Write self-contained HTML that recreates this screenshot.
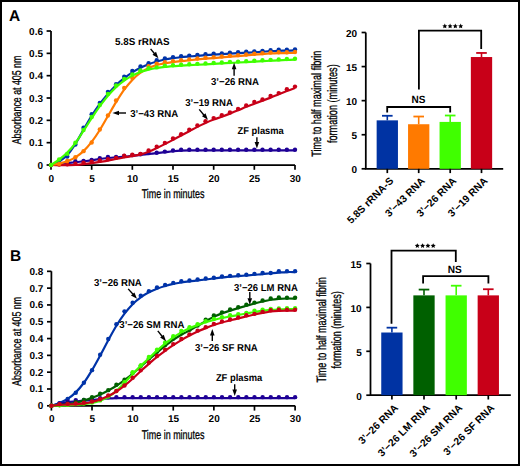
<!DOCTYPE html>
<html><head><meta charset="utf-8"><style>
html,body{margin:0;padding:0;background:#fff;width:520px;height:466px;overflow:hidden}
svg{display:block}
text{font-family:"Liberation Sans", sans-serif;text-rendering:geometricPrecision}
</style></head><body>
<svg width="520" height="466" viewBox="0 0 520 466" font-family='"Liberation Sans", sans-serif'>
<rect x="0" y="0" width="520" height="466" fill="#fff"/>
<polyline points="51,31.02 51,165 295,165" fill="none" stroke="#000" stroke-width="1.75" stroke-linejoin="miter"/>
<line x1="46.6" y1="165" x2="51" y2="165" stroke="#000" stroke-width="1.7"/>
<text x="43" y="168.5" font-size="10" font-weight="bold" text-anchor="end" >0</text>
<line x1="46.6" y1="142.67" x2="51" y2="142.67" stroke="#000" stroke-width="1.7"/>
<text x="43" y="146.17" font-size="10" font-weight="bold" text-anchor="end" >0.1</text>
<line x1="46.6" y1="120.34" x2="51" y2="120.34" stroke="#000" stroke-width="1.7"/>
<text x="43" y="123.84" font-size="10" font-weight="bold" text-anchor="end" >0.2</text>
<line x1="46.6" y1="98.01" x2="51" y2="98.01" stroke="#000" stroke-width="1.7"/>
<text x="43" y="101.51" font-size="10" font-weight="bold" text-anchor="end" >0.3</text>
<line x1="46.6" y1="75.68" x2="51" y2="75.68" stroke="#000" stroke-width="1.7"/>
<text x="43" y="79.18" font-size="10" font-weight="bold" text-anchor="end" >0.4</text>
<line x1="46.6" y1="53.35" x2="51" y2="53.35" stroke="#000" stroke-width="1.7"/>
<text x="43" y="56.85" font-size="10" font-weight="bold" text-anchor="end" >0.5</text>
<line x1="46.6" y1="31.02" x2="51" y2="31.02" stroke="#000" stroke-width="1.7"/>
<text x="43" y="34.52" font-size="10" font-weight="bold" text-anchor="end" >0.6</text>
<line x1="51" y1="165" x2="51" y2="169.8" stroke="#000" stroke-width="1.7"/>
<text x="51.3" y="181.5" font-size="10" font-weight="bold" text-anchor="middle" >0</text>
<line x1="91.67" y1="165" x2="91.67" y2="169.8" stroke="#000" stroke-width="1.7"/>
<text x="91.97" y="181.5" font-size="10" font-weight="bold" text-anchor="middle" >5</text>
<line x1="132.33" y1="165" x2="132.33" y2="169.8" stroke="#000" stroke-width="1.7"/>
<text x="132.63" y="181.5" font-size="10" font-weight="bold" text-anchor="middle" >10</text>
<line x1="173" y1="165" x2="173" y2="169.8" stroke="#000" stroke-width="1.7"/>
<text x="173.3" y="181.5" font-size="10" font-weight="bold" text-anchor="middle" >15</text>
<line x1="213.67" y1="165" x2="213.67" y2="169.8" stroke="#000" stroke-width="1.7"/>
<text x="213.97" y="181.5" font-size="10" font-weight="bold" text-anchor="middle" >20</text>
<line x1="254.33" y1="165" x2="254.33" y2="169.8" stroke="#000" stroke-width="1.7"/>
<text x="254.63" y="181.5" font-size="10" font-weight="bold" text-anchor="middle" >25</text>
<line x1="295" y1="165" x2="295" y2="169.8" stroke="#000" stroke-width="1.7"/>
<text x="295.3" y="181.5" font-size="10" font-weight="bold" text-anchor="middle" >30</text>
<path d="M51,165 C52.36,164.85 56.42,164.41 59.13,164.08 C61.84,163.75 64.56,163.32 67.27,163.02 C69.98,162.71 72.69,162.54 75.4,162.25 C78.11,161.96 80.82,161.61 83.53,161.28 C86.24,160.96 88.96,160.7 91.67,160.32 C94.38,159.93 97.09,159.36 99.8,158.98 C102.51,158.59 105.22,158.29 107.93,158.01 C110.64,157.72 113.36,157.49 116.07,157.26 C118.78,157.04 121.49,156.92 124.2,156.67 C126.91,156.42 129.62,156.08 132.33,155.77 C135.04,155.46 137.76,155.1 140.47,154.81 C143.18,154.51 145.89,154.27 148.6,153.99 C151.31,153.7 154.02,153.39 156.73,153.1 C159.44,152.8 162.16,152.51 164.87,152.2 C167.58,151.89 170.29,151.5 173,151.23 C175.71,150.97 178.42,150.75 181.13,150.6 C183.84,150.45 186.56,150.39 189.27,150.34 C191.98,150.29 194.69,150.31 197.4,150.3 C200.11,150.3 202.82,150.3 205.53,150.3 C208.24,150.3 210.96,150.3 213.67,150.3 C216.38,150.3 219.09,150.3 221.8,150.3 C224.51,150.3 227.22,150.3 229.93,150.3 C232.64,150.3 235.36,150.3 238.07,150.3 C240.78,150.3 243.49,150.3 246.2,150.3 C248.91,150.3 251.62,150.3 254.33,150.3 C257.04,150.3 259.76,150.3 262.47,150.3 C265.18,150.3 267.89,150.3 270.6,150.3 C273.31,150.3 276.02,150.3 278.73,150.3 C281.44,150.3 284.16,150.3 286.87,150.3 C289.58,150.3 293.64,150.3 295,150.3" fill="none" stroke="#1e0096" stroke-width="2.2"/>
<circle cx="51" cy="165" r="2.2" fill="#1e0096"/>
<circle cx="59.13" cy="163.88" r="2.2" fill="#1e0096"/>
<circle cx="67.27" cy="162.77" r="2.2" fill="#1e0096"/>
<circle cx="75.4" cy="161.2" r="2.2" fill="#1e0096"/>
<circle cx="83.53" cy="160.98" r="2.2" fill="#1e0096"/>
<circle cx="91.67" cy="159.86" r="2.2" fill="#1e0096"/>
<circle cx="99.8" cy="158.3" r="2.2" fill="#1e0096"/>
<circle cx="107.93" cy="156.96" r="2.2" fill="#1e0096"/>
<circle cx="116.07" cy="156.96" r="2.2" fill="#1e0096"/>
<circle cx="124.2" cy="156.07" r="2.2" fill="#1e0096"/>
<circle cx="132.33" cy="155.17" r="2.2" fill="#1e0096"/>
<circle cx="140.47" cy="154.28" r="2.2" fill="#1e0096"/>
<circle cx="148.6" cy="153.17" r="2.2" fill="#1e0096"/>
<circle cx="156.73" cy="152.72" r="2.2" fill="#1e0096"/>
<circle cx="164.87" cy="151.6" r="2.2" fill="#1e0096"/>
<circle cx="173" cy="150.49" r="2.2" fill="#1e0096"/>
<circle cx="181.13" cy="149.82" r="2.2" fill="#1e0096"/>
<circle cx="189.27" cy="149.7" r="2.2" fill="#1e0096"/>
<circle cx="197.4" cy="149.7" r="2.2" fill="#1e0096"/>
<circle cx="205.53" cy="149.7" r="2.2" fill="#1e0096"/>
<circle cx="213.67" cy="149.7" r="2.2" fill="#1e0096"/>
<circle cx="221.8" cy="149.7" r="2.2" fill="#1e0096"/>
<circle cx="229.93" cy="149.7" r="2.2" fill="#1e0096"/>
<circle cx="238.07" cy="149.7" r="2.2" fill="#1e0096"/>
<circle cx="246.2" cy="149.7" r="2.2" fill="#1e0096"/>
<circle cx="254.33" cy="149.7" r="2.2" fill="#1e0096"/>
<circle cx="262.47" cy="149.7" r="2.2" fill="#1e0096"/>
<circle cx="270.6" cy="149.7" r="2.2" fill="#1e0096"/>
<circle cx="278.73" cy="149.7" r="2.2" fill="#1e0096"/>
<circle cx="286.87" cy="149.7" r="2.2" fill="#1e0096"/>
<circle cx="295" cy="149.7" r="2.2" fill="#1e0096"/>
<path d="M51,165 C52.36,165.02 56.42,165.08 59.13,165.09 C61.84,165.11 64.56,165.13 67.27,165.11 C69.98,165.1 72.69,165.16 75.4,164.99 C78.11,164.82 80.82,164.42 83.53,164.09 C86.24,163.77 88.96,163.42 91.67,163.05 C94.38,162.68 97.09,162.27 99.8,161.86 C102.51,161.45 105.22,161.08 107.93,160.59 C110.64,160.11 113.36,159.48 116.07,158.96 C118.78,158.44 121.49,157.94 124.2,157.47 C126.91,157 129.62,156.64 132.33,156.13 C135.04,155.62 137.76,155.15 140.47,154.42 C143.18,153.68 145.89,152.79 148.6,151.74 C151.31,150.68 154.02,149.37 156.73,148.09 C159.44,146.81 162.16,145.43 164.87,144.07 C167.58,142.71 170.29,141.33 173,139.9 C175.71,138.48 178.42,136.96 181.13,135.51 C183.84,134.06 186.56,132.63 189.27,131.19 C191.98,129.75 194.69,128.24 197.4,126.88 C200.11,125.51 202.82,124.22 205.53,123.01 C208.24,121.79 210.96,120.64 213.67,119.58 C216.38,118.53 219.09,117.67 221.8,116.68 C224.51,115.69 227.22,114.68 229.93,113.63 C232.64,112.57 235.36,111.48 238.07,110.35 C240.78,109.22 243.49,107.96 246.2,106.85 C248.91,105.75 251.62,104.77 254.33,103.73 C257.04,102.69 259.76,101.62 262.47,100.6 C265.18,99.58 267.89,98.69 270.6,97.62 C273.31,96.56 276.02,95.29 278.73,94.2 C281.44,93.11 284.16,92.1 286.87,91.07 C289.58,90.04 293.64,88.53 295,88.02" fill="none" stroke="#c80018" stroke-width="2.2"/>
<circle cx="51" cy="165" r="2.2" fill="#c80018"/>
<circle cx="59.13" cy="164.55" r="2.2" fill="#c80018"/>
<circle cx="67.27" cy="164.33" r="2.2" fill="#c80018"/>
<circle cx="75.4" cy="163.66" r="2.2" fill="#c80018"/>
<circle cx="83.53" cy="162.77" r="2.2" fill="#c80018"/>
<circle cx="91.67" cy="161.65" r="2.2" fill="#c80018"/>
<circle cx="99.8" cy="160.53" r="2.2" fill="#c80018"/>
<circle cx="107.93" cy="159.19" r="2.2" fill="#c80018"/>
<circle cx="116.07" cy="157.85" r="2.2" fill="#c80018"/>
<circle cx="124.2" cy="155.62" r="2.2" fill="#c80018"/>
<circle cx="132.33" cy="154.73" r="2.2" fill="#c80018"/>
<circle cx="140.47" cy="153.84" r="2.2" fill="#c80018"/>
<circle cx="148.6" cy="150.49" r="2.2" fill="#c80018"/>
<circle cx="156.73" cy="146.69" r="2.2" fill="#c80018"/>
<circle cx="164.87" cy="142.89" r="2.2" fill="#c80018"/>
<circle cx="173" cy="138.43" r="2.2" fill="#c80018"/>
<circle cx="181.13" cy="134.18" r="2.2" fill="#c80018"/>
<circle cx="189.27" cy="129.72" r="2.2" fill="#c80018"/>
<circle cx="197.4" cy="125.48" r="2.2" fill="#c80018"/>
<circle cx="205.53" cy="121.23" r="2.2" fill="#c80018"/>
<circle cx="213.67" cy="118.11" r="2.2" fill="#c80018"/>
<circle cx="221.8" cy="115.2" r="2.2" fill="#c80018"/>
<circle cx="229.93" cy="112.52" r="2.2" fill="#c80018"/>
<circle cx="238.07" cy="108.95" r="2.2" fill="#c80018"/>
<circle cx="246.2" cy="105.38" r="2.2" fill="#c80018"/>
<circle cx="254.33" cy="102.03" r="2.2" fill="#c80018"/>
<circle cx="262.47" cy="99.57" r="2.2" fill="#c80018"/>
<circle cx="270.6" cy="96" r="2.2" fill="#c80018"/>
<circle cx="278.73" cy="93.1" r="2.2" fill="#c80018"/>
<circle cx="286.87" cy="89.3" r="2.2" fill="#c80018"/>
<circle cx="295" cy="86.62" r="2.2" fill="#c80018"/>
<path d="M51,165 C52.36,164.43 56.42,163.24 59.13,161.58 C61.84,159.92 64.56,157.99 67.27,155.03 C69.98,152.07 72.69,148.01 75.4,143.79 C78.11,139.58 80.82,134.38 83.53,129.73 C86.24,125.07 88.96,120.17 91.67,115.88 C94.38,111.59 97.09,107.63 99.8,103.97 C102.51,100.31 105.22,97.05 107.93,93.92 C110.64,90.8 113.36,87.83 116.07,85.21 C118.78,82.6 121.49,80.36 124.2,78.22 C126.91,76.07 129.62,74.07 132.33,72.34 C135.04,70.6 137.76,69.15 140.47,67.8 C143.18,66.44 145.89,65.27 148.6,64.22 C151.31,63.18 154.02,62.33 156.73,61.54 C159.44,60.76 162.16,60.09 164.87,59.53 C167.58,58.98 170.29,58.58 173,58.19 C175.71,57.81 178.42,57.51 181.13,57.23 C183.84,56.94 186.56,56.72 189.27,56.48 C191.98,56.25 194.69,56.02 197.4,55.81 C200.11,55.6 202.82,55.4 205.53,55.22 C208.24,55.03 210.96,54.87 213.67,54.7 C216.38,54.52 219.09,54.35 221.8,54.18 C224.51,54 227.22,53.83 229.93,53.65 C232.64,53.48 235.36,53.29 238.07,53.13 C240.78,52.97 243.49,52.84 246.2,52.69 C248.91,52.54 251.62,52.4 254.33,52.24 C257.04,52.08 259.76,51.89 262.47,51.72 C265.18,51.55 267.89,51.35 270.6,51.2 C273.31,51.05 276.02,50.93 278.73,50.83 C281.44,50.73 284.16,50.66 286.87,50.6 C289.58,50.54 293.64,50.48 295,50.45" fill="none" stroke="#0033a8" stroke-width="2.2"/>
<circle cx="51" cy="165" r="2.2" fill="#0033a8"/>
<circle cx="59.13" cy="162.32" r="2.2" fill="#0033a8"/>
<circle cx="67.27" cy="156.51" r="2.2" fill="#0033a8"/>
<circle cx="75.4" cy="144.46" r="2.2" fill="#0033a8"/>
<circle cx="83.53" cy="127.71" r="2.2" fill="#0033a8"/>
<circle cx="91.67" cy="114.31" r="2.2" fill="#0033a8"/>
<circle cx="99.8" cy="102.92" r="2.2" fill="#0033a8"/>
<circle cx="107.93" cy="91.98" r="2.2" fill="#0033a8"/>
<circle cx="116.07" cy="84.17" r="2.2" fill="#0033a8"/>
<circle cx="124.2" cy="76.8" r="2.2" fill="#0033a8"/>
<circle cx="132.33" cy="70.99" r="2.2" fill="#0033a8"/>
<circle cx="140.47" cy="66.52" r="2.2" fill="#0033a8"/>
<circle cx="148.6" cy="63.18" r="2.2" fill="#0033a8"/>
<circle cx="156.73" cy="60.27" r="2.2" fill="#0033a8"/>
<circle cx="164.87" cy="58.49" r="2.2" fill="#0033a8"/>
<circle cx="173" cy="57.15" r="2.2" fill="#0033a8"/>
<circle cx="181.13" cy="56.25" r="2.2" fill="#0033a8"/>
<circle cx="189.27" cy="55.58" r="2.2" fill="#0033a8"/>
<circle cx="197.4" cy="54.91" r="2.2" fill="#0033a8"/>
<circle cx="205.53" cy="54.24" r="2.2" fill="#0033a8"/>
<circle cx="213.67" cy="53.8" r="2.2" fill="#0033a8"/>
<circle cx="221.8" cy="53.35" r="2.2" fill="#0033a8"/>
<circle cx="229.93" cy="52.68" r="2.2" fill="#0033a8"/>
<circle cx="238.07" cy="52.23" r="2.2" fill="#0033a8"/>
<circle cx="246.2" cy="51.79" r="2.2" fill="#0033a8"/>
<circle cx="254.33" cy="51.34" r="2.2" fill="#0033a8"/>
<circle cx="262.47" cy="50.89" r="2.2" fill="#0033a8"/>
<circle cx="270.6" cy="50.22" r="2.2" fill="#0033a8"/>
<circle cx="278.73" cy="49.78" r="2.2" fill="#0033a8"/>
<circle cx="286.87" cy="49.78" r="2.2" fill="#0033a8"/>
<circle cx="295" cy="49.55" r="2.2" fill="#0033a8"/>
<path d="M51,165 C52.36,164.76 56.42,164.21 59.13,163.59 C61.84,162.97 64.56,162.32 67.27,161.28 C69.98,160.24 72.69,159.03 75.4,157.34 C78.11,155.65 80.82,153.73 83.53,151.16 C86.24,148.59 88.96,145.46 91.67,141.93 C94.38,138.41 97.09,134.34 99.8,130.02 C102.51,125.71 105.22,120.67 107.93,116.03 C110.64,111.39 113.36,106.58 116.07,102.19 C118.78,97.79 121.49,93.39 124.2,89.68 C126.91,85.97 129.62,82.76 132.33,79.93 C135.04,77.1 137.76,74.71 140.47,72.71 C143.18,70.71 145.89,69.24 148.6,67.95 C151.31,66.66 154.02,65.75 156.73,64.97 C159.44,64.19 162.16,63.73 164.87,63.26 C167.58,62.79 170.29,62.49 173,62.14 C175.71,61.79 178.42,61.48 181.13,61.17 C183.84,60.86 186.56,60.56 189.27,60.28 C191.98,59.99 194.69,59.72 197.4,59.46 C200.11,59.2 202.82,58.95 205.53,58.72 C208.24,58.48 210.96,58.27 213.67,58.05 C216.38,57.82 219.09,57.6 221.8,57.38 C224.51,57.15 227.22,56.93 229.93,56.71 C232.64,56.48 235.36,56.26 238.07,56.04 C240.78,55.81 243.49,55.59 246.2,55.37 C248.91,55.14 251.62,54.92 254.33,54.7 C257.04,54.47 259.76,54.23 262.47,54.03 C265.18,53.83 267.89,53.64 270.6,53.51 C273.31,53.37 276.02,53.28 278.73,53.21 C281.44,53.13 284.16,53.11 286.87,53.06 C289.58,53.01 293.64,52.94 295,52.91" fill="none" stroke="#ff7a00" stroke-width="2.2"/>
<circle cx="51" cy="165" r="2.2" fill="#ff7a00"/>
<circle cx="59.13" cy="163.88" r="2.2" fill="#ff7a00"/>
<circle cx="67.27" cy="160.98" r="2.2" fill="#ff7a00"/>
<circle cx="75.4" cy="157.18" r="2.2" fill="#ff7a00"/>
<circle cx="83.53" cy="151.16" r="2.2" fill="#ff7a00"/>
<circle cx="91.67" cy="142.45" r="2.2" fill="#ff7a00"/>
<circle cx="99.8" cy="129.5" r="2.2" fill="#ff7a00"/>
<circle cx="107.93" cy="115.43" r="2.2" fill="#ff7a00"/>
<circle cx="116.07" cy="100.47" r="2.2" fill="#ff7a00"/>
<circle cx="124.2" cy="87.96" r="2.2" fill="#ff7a00"/>
<circle cx="132.33" cy="77.91" r="2.2" fill="#ff7a00"/>
<circle cx="140.47" cy="71.21" r="2.2" fill="#ff7a00"/>
<circle cx="148.6" cy="66.3" r="2.2" fill="#ff7a00"/>
<circle cx="156.73" cy="63.62" r="2.2" fill="#ff7a00"/>
<circle cx="164.87" cy="62.28" r="2.2" fill="#ff7a00"/>
<circle cx="173" cy="61.17" r="2.2" fill="#ff7a00"/>
<circle cx="181.13" cy="60.27" r="2.2" fill="#ff7a00"/>
<circle cx="189.27" cy="59.38" r="2.2" fill="#ff7a00"/>
<circle cx="197.4" cy="58.49" r="2.2" fill="#ff7a00"/>
<circle cx="205.53" cy="57.82" r="2.2" fill="#ff7a00"/>
<circle cx="213.67" cy="57.15" r="2.2" fill="#ff7a00"/>
<circle cx="221.8" cy="56.48" r="2.2" fill="#ff7a00"/>
<circle cx="229.93" cy="55.81" r="2.2" fill="#ff7a00"/>
<circle cx="238.07" cy="55.14" r="2.2" fill="#ff7a00"/>
<circle cx="246.2" cy="54.47" r="2.2" fill="#ff7a00"/>
<circle cx="254.33" cy="53.8" r="2.2" fill="#ff7a00"/>
<circle cx="262.47" cy="53.13" r="2.2" fill="#ff7a00"/>
<circle cx="270.6" cy="52.46" r="2.2" fill="#ff7a00"/>
<circle cx="278.73" cy="52.23" r="2.2" fill="#ff7a00"/>
<circle cx="286.87" cy="52.23" r="2.2" fill="#ff7a00"/>
<circle cx="295" cy="52.01" r="2.2" fill="#ff7a00"/>
<path d="M51,165 C52.36,164.12 56.42,161.79 59.13,159.72 C61.84,157.65 64.56,155.35 67.27,152.57 C69.98,149.8 72.69,146.68 75.4,143.05 C78.11,139.41 80.82,134.91 83.53,130.77 C86.24,126.62 88.96,122.28 91.67,118.19 C94.38,114.09 97.09,109.95 99.8,106.2 C102.51,102.46 105.22,98.9 107.93,95.71 C110.64,92.52 113.36,89.59 116.07,87.08 C118.78,84.56 121.49,82.51 124.2,80.6 C126.91,78.69 129.62,77.04 132.33,75.61 C135.04,74.19 137.76,73.03 140.47,72.04 C143.18,71.05 145.89,70.33 148.6,69.66 C151.31,68.99 154.02,68.47 156.73,68.02 C159.44,67.57 162.16,67.3 164.87,66.98 C167.58,66.66 170.29,66.31 173,66.08 C175.71,65.86 178.42,65.79 181.13,65.64 C183.84,65.49 186.56,65.34 189.27,65.19 C191.98,65.04 194.69,64.89 197.4,64.75 C200.11,64.6 202.82,64.45 205.53,64.3 C208.24,64.15 210.96,64 213.67,63.85 C216.38,63.7 219.09,63.55 221.8,63.41 C224.51,63.26 227.22,63.11 229.93,62.96 C232.64,62.81 235.36,62.66 238.07,62.51 C240.78,62.36 243.49,62.21 246.2,62.07 C248.91,61.92 251.62,61.77 254.33,61.62 C257.04,61.47 259.76,61.32 262.47,61.17 C265.18,61.02 267.89,60.87 270.6,60.73 C273.31,60.58 276.02,60.42 278.73,60.28 C281.44,60.14 284.16,60.02 286.87,59.91 C289.58,59.8 293.64,59.66 295,59.61" fill="none" stroke="#40ff00" stroke-width="2.2"/>
<circle cx="51" cy="165" r="2.2" fill="#40ff00"/>
<circle cx="59.13" cy="159.42" r="2.2" fill="#40ff00"/>
<circle cx="67.27" cy="153.84" r="2.2" fill="#40ff00"/>
<circle cx="75.4" cy="142.67" r="2.2" fill="#40ff00"/>
<circle cx="83.53" cy="129.94" r="2.2" fill="#40ff00"/>
<circle cx="91.67" cy="116.99" r="2.2" fill="#40ff00"/>
<circle cx="99.8" cy="104.93" r="2.2" fill="#40ff00"/>
<circle cx="107.93" cy="93.99" r="2.2" fill="#40ff00"/>
<circle cx="116.07" cy="85.51" r="2.2" fill="#40ff00"/>
<circle cx="124.2" cy="79.03" r="2.2" fill="#40ff00"/>
<circle cx="132.33" cy="74.56" r="2.2" fill="#40ff00"/>
<circle cx="140.47" cy="70.54" r="2.2" fill="#40ff00"/>
<circle cx="148.6" cy="68.31" r="2.2" fill="#40ff00"/>
<circle cx="156.73" cy="67.42" r="2.2" fill="#40ff00"/>
<circle cx="164.87" cy="65.63" r="2.2" fill="#40ff00"/>
<circle cx="173" cy="65.18" r="2.2" fill="#40ff00"/>
<circle cx="181.13" cy="64.74" r="2.2" fill="#40ff00"/>
<circle cx="189.27" cy="64.29" r="2.2" fill="#40ff00"/>
<circle cx="197.4" cy="63.85" r="2.2" fill="#40ff00"/>
<circle cx="205.53" cy="63.4" r="2.2" fill="#40ff00"/>
<circle cx="213.67" cy="62.95" r="2.2" fill="#40ff00"/>
<circle cx="221.8" cy="62.51" r="2.2" fill="#40ff00"/>
<circle cx="229.93" cy="62.06" r="2.2" fill="#40ff00"/>
<circle cx="238.07" cy="61.61" r="2.2" fill="#40ff00"/>
<circle cx="246.2" cy="61.17" r="2.2" fill="#40ff00"/>
<circle cx="254.33" cy="60.72" r="2.2" fill="#40ff00"/>
<circle cx="262.47" cy="60.27" r="2.2" fill="#40ff00"/>
<circle cx="270.6" cy="59.83" r="2.2" fill="#40ff00"/>
<circle cx="278.73" cy="59.38" r="2.2" fill="#40ff00"/>
<circle cx="286.87" cy="58.93" r="2.2" fill="#40ff00"/>
<circle cx="295" cy="58.71" r="2.2" fill="#40ff00"/>
<text x="20.9" y="100" font-size="12.7" font-weight="normal" text-anchor="middle" textLength="88.6" lengthAdjust="spacingAndGlyphs" stroke="#000" stroke-width="0.3" transform="rotate(-90 20.9 100)">Absorbance at 405 nm</text>
<text x="173.1" y="197.7" font-size="12.7" font-weight="normal" text-anchor="middle" textLength="62.8" lengthAdjust="spacingAndGlyphs" stroke="#000" stroke-width="0.3">Time in minutes</text>
<text x="115.02" y="45.4" font-size="10" font-weight="bold" textLength="54.65" lengthAdjust="spacingAndGlyphs">5.8S rRNAS</text>
<line x1="150.6" y1="48.9" x2="154.57" y2="53.68" stroke="#000" stroke-width="1.4"/>
<polygon points="158.4,58.3 152.48,54.77 156.02,51.83" fill="#000"/>
<text x="211" y="85.4" font-size="10" font-weight="bold" textLength="48.02" lengthAdjust="spacingAndGlyphs">3’−26 RNA</text>
<line x1="234.1" y1="75.8" x2="234.1" y2="68.8" stroke="#000" stroke-width="1.4"/>
<polygon points="234.1,62.8 236.4,69.3 231.8,69.3" fill="#000"/>
<text x="130.2" y="116.5" font-size="10" font-weight="bold" textLength="48.02" lengthAdjust="spacingAndGlyphs">3’−43 RNA</text>
<line x1="126" y1="113" x2="118.5" y2="113" stroke="#000" stroke-width="1.4"/>
<polygon points="112.5,113 119,110.7 119,115.3" fill="#000"/>
<text x="185.2" y="106" font-size="10" font-weight="bold" textLength="47.72" lengthAdjust="spacingAndGlyphs">3’−19 RNA</text>
<line x1="199.2" y1="109.4" x2="204.05" y2="115.2" stroke="#000" stroke-width="1.4"/>
<polygon points="207.9,119.8 201.97,116.29 205.49,113.34" fill="#000"/>
<text x="237.6" y="133.6" font-size="10" font-weight="bold" textLength="46.2" lengthAdjust="spacingAndGlyphs">ZF plasma</text>
<line x1="256.9" y1="137.2" x2="256.9" y2="142.6" stroke="#000" stroke-width="1.4"/>
<polygon points="256.9,148.6 254.6,142.1 259.2,142.1" fill="#000"/>
<polyline points="51.4,271.32 51.4,405.8 295.1,405.8" fill="none" stroke="#000" stroke-width="1.75" stroke-linejoin="miter"/>
<line x1="47" y1="405.8" x2="51.4" y2="405.8" stroke="#000" stroke-width="1.7"/>
<text x="43.4" y="409.3" font-size="10" font-weight="bold" text-anchor="end" >0</text>
<line x1="47" y1="388.99" x2="51.4" y2="388.99" stroke="#000" stroke-width="1.7"/>
<text x="43.4" y="392.49" font-size="10" font-weight="bold" text-anchor="end" >0.1</text>
<line x1="47" y1="372.18" x2="51.4" y2="372.18" stroke="#000" stroke-width="1.7"/>
<text x="43.4" y="375.68" font-size="10" font-weight="bold" text-anchor="end" >0.2</text>
<line x1="47" y1="355.37" x2="51.4" y2="355.37" stroke="#000" stroke-width="1.7"/>
<text x="43.4" y="358.87" font-size="10" font-weight="bold" text-anchor="end" >0.3</text>
<line x1="47" y1="338.56" x2="51.4" y2="338.56" stroke="#000" stroke-width="1.7"/>
<text x="43.4" y="342.06" font-size="10" font-weight="bold" text-anchor="end" >0.4</text>
<line x1="47" y1="321.75" x2="51.4" y2="321.75" stroke="#000" stroke-width="1.7"/>
<text x="43.4" y="325.25" font-size="10" font-weight="bold" text-anchor="end" >0.5</text>
<line x1="47" y1="304.94" x2="51.4" y2="304.94" stroke="#000" stroke-width="1.7"/>
<text x="43.4" y="308.44" font-size="10" font-weight="bold" text-anchor="end" >0.6</text>
<line x1="47" y1="288.13" x2="51.4" y2="288.13" stroke="#000" stroke-width="1.7"/>
<text x="43.4" y="291.63" font-size="10" font-weight="bold" text-anchor="end" >0.7</text>
<line x1="47" y1="271.32" x2="51.4" y2="271.32" stroke="#000" stroke-width="1.7"/>
<text x="43.4" y="274.82" font-size="10" font-weight="bold" text-anchor="end" >0.8</text>
<line x1="51.4" y1="405.8" x2="51.4" y2="410.6" stroke="#000" stroke-width="1.7"/>
<text x="51.7" y="422.3" font-size="10" font-weight="bold" text-anchor="middle" >0</text>
<line x1="92.02" y1="405.8" x2="92.02" y2="410.6" stroke="#000" stroke-width="1.7"/>
<text x="92.32" y="422.3" font-size="10" font-weight="bold" text-anchor="middle" >5</text>
<line x1="132.63" y1="405.8" x2="132.63" y2="410.6" stroke="#000" stroke-width="1.7"/>
<text x="132.93" y="422.3" font-size="10" font-weight="bold" text-anchor="middle" >10</text>
<line x1="173.25" y1="405.8" x2="173.25" y2="410.6" stroke="#000" stroke-width="1.7"/>
<text x="173.55" y="422.3" font-size="10" font-weight="bold" text-anchor="middle" >15</text>
<line x1="213.87" y1="405.8" x2="213.87" y2="410.6" stroke="#000" stroke-width="1.7"/>
<text x="214.17" y="422.3" font-size="10" font-weight="bold" text-anchor="middle" >20</text>
<line x1="254.48" y1="405.8" x2="254.48" y2="410.6" stroke="#000" stroke-width="1.7"/>
<text x="254.78" y="422.3" font-size="10" font-weight="bold" text-anchor="middle" >25</text>
<line x1="295.1" y1="405.8" x2="295.1" y2="410.6" stroke="#000" stroke-width="1.7"/>
<text x="295.4" y="422.3" font-size="10" font-weight="bold" text-anchor="middle" >30</text>
<path d="M51.4,405.8 C52.75,405.32 56.82,404.07 59.52,402.91 C62.23,401.75 64.94,400.59 67.65,398.84 C70.35,397.08 73.06,395.03 75.77,392.36 C78.48,389.68 81.19,386.48 83.89,382.77 C86.6,379.07 89.31,374.65 92.02,370.11 C94.72,365.57 97.43,360.52 100.14,355.54 C102.85,350.56 105.56,345.2 108.26,340.24 C110.97,335.29 113.68,330.21 116.39,325.79 C119.09,321.36 121.8,317.29 124.51,313.68 C127.22,310.08 129.93,306.87 132.63,304.16 C135.34,301.45 138.05,299.41 140.76,297.44 C143.46,295.46 146.17,293.78 148.88,292.34 C151.59,290.89 154.3,289.81 157,288.75 C159.71,287.69 162.42,286.81 165.13,286 C167.83,285.2 170.54,284.52 173.25,283.93 C175.96,283.34 178.67,282.9 181.37,282.47 C184.08,282.04 186.79,281.69 189.5,281.35 C192.2,281.02 194.91,280.77 197.62,280.46 C200.33,280.15 203.04,279.84 205.74,279.5 C208.45,279.17 211.16,278.77 213.87,278.44 C216.57,278.11 219.28,277.83 221.99,277.54 C224.7,277.25 227.41,276.94 230.11,276.7 C232.82,276.47 235.53,276.35 238.24,276.14 C240.94,275.94 243.65,275.7 246.36,275.47 C249.07,275.24 251.78,274.96 254.48,274.74 C257.19,274.53 259.9,274.42 262.61,274.18 C265.31,273.94 268.02,273.54 270.73,273.28 C273.44,273.03 276.15,272.87 278.85,272.67 C281.56,272.46 284.27,272.15 286.98,272.05 C289.68,271.95 293.75,272.05 295.1,272.05" fill="none" stroke="#0033a8" stroke-width="2.2"/>
<circle cx="51.4" cy="405.8" r="2.2" fill="#0033a8"/>
<circle cx="59.52" cy="403.11" r="2.2" fill="#0033a8"/>
<circle cx="67.65" cy="398.91" r="2.2" fill="#0033a8"/>
<circle cx="75.77" cy="392.69" r="2.2" fill="#0033a8"/>
<circle cx="83.89" cy="382.77" r="2.2" fill="#0033a8"/>
<circle cx="92.02" cy="370.16" r="2.2" fill="#0033a8"/>
<circle cx="100.14" cy="354.7" r="2.2" fill="#0033a8"/>
<circle cx="108.26" cy="339.06" r="2.2" fill="#0033a8"/>
<circle cx="116.39" cy="324.27" r="2.2" fill="#0033a8"/>
<circle cx="124.51" cy="311.33" r="2.2" fill="#0033a8"/>
<circle cx="132.63" cy="302.75" r="2.2" fill="#0033a8"/>
<circle cx="140.76" cy="295.69" r="2.2" fill="#0033a8"/>
<circle cx="148.88" cy="291.16" r="2.2" fill="#0033a8"/>
<circle cx="157" cy="287.46" r="2.2" fill="#0033a8"/>
<circle cx="165.13" cy="284.94" r="2.2" fill="#0033a8"/>
<circle cx="173.25" cy="282.92" r="2.2" fill="#0033a8"/>
<circle cx="181.37" cy="281.24" r="2.2" fill="#0033a8"/>
<circle cx="189.5" cy="280.57" r="2.2" fill="#0033a8"/>
<circle cx="197.62" cy="279.56" r="2.2" fill="#0033a8"/>
<circle cx="205.74" cy="278.55" r="2.2" fill="#0033a8"/>
<circle cx="213.87" cy="277.71" r="2.2" fill="#0033a8"/>
<circle cx="221.99" cy="276.36" r="2.2" fill="#0033a8"/>
<circle cx="230.11" cy="275.86" r="2.2" fill="#0033a8"/>
<circle cx="238.24" cy="275.19" r="2.2" fill="#0033a8"/>
<circle cx="246.36" cy="274.68" r="2.2" fill="#0033a8"/>
<circle cx="254.48" cy="273.84" r="2.2" fill="#0033a8"/>
<circle cx="262.61" cy="273" r="2.2" fill="#0033a8"/>
<circle cx="270.73" cy="273" r="2.2" fill="#0033a8"/>
<circle cx="278.85" cy="271.15" r="2.2" fill="#0033a8"/>
<circle cx="286.98" cy="271.15" r="2.2" fill="#0033a8"/>
<circle cx="295.1" cy="271.15" r="2.2" fill="#0033a8"/>
<path d="M51.4,405.8 C52.75,405.49 56.82,404.5 59.52,403.91 C62.23,403.33 64.94,402.72 67.65,402.31 C70.35,401.9 73.06,401.71 75.77,401.43 C78.48,401.16 81.19,400.88 83.89,400.65 C86.6,400.41 89.31,400.28 92.02,400.03 C94.72,399.78 97.43,399.4 100.14,399.14 C102.85,398.87 105.56,398.61 108.26,398.44 C110.97,398.26 113.68,398.14 116.39,398.07 C119.09,398.01 121.8,398.05 124.51,398.04 C127.22,398.04 129.93,398.04 132.63,398.04 C135.34,398.04 138.05,398.04 140.76,398.04 C143.46,398.04 146.17,398.04 148.88,398.04 C151.59,398.04 154.3,398.04 157,398.04 C159.71,398.04 162.42,398.04 165.13,398.04 C167.83,398.04 170.54,398.04 173.25,398.04 C175.96,398.04 178.67,398.04 181.37,398.04 C184.08,398.04 186.79,398.04 189.5,398.04 C192.2,398.04 194.91,398.04 197.62,398.04 C200.33,398.04 203.04,398.04 205.74,398.04 C208.45,398.04 211.16,398.04 213.87,398.04 C216.57,398.04 219.28,398.04 221.99,398.04 C224.7,398.04 227.41,398.04 230.11,398.04 C232.82,398.04 235.53,398.04 238.24,398.04 C240.94,398.04 243.65,398.04 246.36,398.04 C249.07,398.04 251.78,398.04 254.48,398.04 C257.19,398.04 259.9,398.04 262.61,398.04 C265.31,398.04 268.02,398.04 270.73,398.04 C273.44,398.04 276.15,398.04 278.85,398.04 C281.56,398.04 284.27,398.04 286.98,398.04 C289.68,398.04 293.75,398.04 295.1,398.04" fill="none" stroke="#1e0096" stroke-width="2.2"/>
<circle cx="51.4" cy="405.8" r="2.2" fill="#1e0096"/>
<circle cx="59.52" cy="403.45" r="2.2" fill="#1e0096"/>
<circle cx="67.65" cy="401.6" r="2.2" fill="#1e0096"/>
<circle cx="75.77" cy="400.08" r="2.2" fill="#1e0096"/>
<circle cx="83.89" cy="399.92" r="2.2" fill="#1e0096"/>
<circle cx="92.02" cy="399.24" r="2.2" fill="#1e0096"/>
<circle cx="100.14" cy="398.24" r="2.2" fill="#1e0096"/>
<circle cx="108.26" cy="397.23" r="2.2" fill="#1e0096"/>
<circle cx="116.39" cy="397.14" r="2.2" fill="#1e0096"/>
<circle cx="124.51" cy="397.14" r="2.2" fill="#1e0096"/>
<circle cx="132.63" cy="397.14" r="2.2" fill="#1e0096"/>
<circle cx="140.76" cy="397.14" r="2.2" fill="#1e0096"/>
<circle cx="148.88" cy="397.14" r="2.2" fill="#1e0096"/>
<circle cx="157" cy="397.14" r="2.2" fill="#1e0096"/>
<circle cx="165.13" cy="397.14" r="2.2" fill="#1e0096"/>
<circle cx="173.25" cy="397.14" r="2.2" fill="#1e0096"/>
<circle cx="181.37" cy="397.14" r="2.2" fill="#1e0096"/>
<circle cx="189.5" cy="397.14" r="2.2" fill="#1e0096"/>
<circle cx="197.62" cy="397.14" r="2.2" fill="#1e0096"/>
<circle cx="205.74" cy="397.14" r="2.2" fill="#1e0096"/>
<circle cx="213.87" cy="397.14" r="2.2" fill="#1e0096"/>
<circle cx="221.99" cy="397.14" r="2.2" fill="#1e0096"/>
<circle cx="230.11" cy="397.14" r="2.2" fill="#1e0096"/>
<circle cx="238.24" cy="397.14" r="2.2" fill="#1e0096"/>
<circle cx="246.36" cy="397.14" r="2.2" fill="#1e0096"/>
<circle cx="254.48" cy="397.14" r="2.2" fill="#1e0096"/>
<circle cx="262.61" cy="397.14" r="2.2" fill="#1e0096"/>
<circle cx="270.73" cy="397.14" r="2.2" fill="#1e0096"/>
<circle cx="278.85" cy="397.14" r="2.2" fill="#1e0096"/>
<circle cx="286.98" cy="397.14" r="2.2" fill="#1e0096"/>
<circle cx="295.1" cy="397.14" r="2.2" fill="#1e0096"/>
<path d="M51.4,405.8 C52.75,405.69 56.82,405.41 59.52,405.15 C62.23,404.88 64.94,404.6 67.65,404.21 C70.35,403.83 73.06,403.43 75.77,402.83 C78.48,402.24 81.19,401.48 83.89,400.65 C86.6,399.82 89.31,398.86 92.02,397.85 C94.72,396.84 97.43,395.83 100.14,394.6 C102.85,393.36 105.56,391.92 108.26,390.45 C110.97,388.98 113.68,387.53 116.39,385.8 C119.09,384.07 121.8,382.09 124.51,380.08 C127.22,378.08 129.93,375.99 132.63,373.75 C135.34,371.51 138.05,369.01 140.76,366.64 C143.46,364.26 146.17,361.86 148.88,359.52 C151.59,357.18 154.3,354.83 157,352.57 C159.71,350.31 162.42,348.08 165.13,345.96 C167.83,343.84 170.54,341.71 173.25,339.85 C175.96,337.99 178.67,336.38 181.37,334.81 C184.08,333.24 186.79,331.92 189.5,330.44 C192.2,328.95 194.91,327.45 197.62,325.9 C200.33,324.35 203.04,322.66 205.74,321.14 C208.45,319.61 211.16,318.06 213.87,316.77 C216.57,315.47 219.28,314.38 221.99,313.35 C224.7,312.32 227.41,311.48 230.11,310.6 C232.82,309.72 235.53,308.88 238.24,308.08 C240.94,307.28 243.65,306.54 246.36,305.78 C249.07,305.03 251.78,304.26 254.48,303.54 C257.19,302.82 259.9,302.1 262.61,301.47 C265.31,300.83 268.02,300.18 270.73,299.73 C273.44,299.28 276.15,298.99 278.85,298.78 C281.56,298.57 284.27,298.53 286.98,298.5 C289.68,298.47 293.75,298.59 295.1,298.61" fill="none" stroke="#006000" stroke-width="2.2"/>
<circle cx="51.4" cy="405.8" r="2.2" fill="#006000"/>
<circle cx="59.52" cy="404.96" r="2.2" fill="#006000"/>
<circle cx="67.65" cy="403.78" r="2.2" fill="#006000"/>
<circle cx="75.77" cy="402.1" r="2.2" fill="#006000"/>
<circle cx="83.89" cy="399.92" r="2.2" fill="#006000"/>
<circle cx="92.02" cy="397.23" r="2.2" fill="#006000"/>
<circle cx="100.14" cy="393.7" r="2.2" fill="#006000"/>
<circle cx="108.26" cy="390.17" r="2.2" fill="#006000"/>
<circle cx="116.39" cy="384.79" r="2.2" fill="#006000"/>
<circle cx="124.51" cy="379.74" r="2.2" fill="#006000"/>
<circle cx="132.63" cy="373.02" r="2.2" fill="#006000"/>
<circle cx="140.76" cy="365.79" r="2.2" fill="#006000"/>
<circle cx="148.88" cy="358.4" r="2.2" fill="#006000"/>
<circle cx="157" cy="351.67" r="2.2" fill="#006000"/>
<circle cx="165.13" cy="344.95" r="2.2" fill="#006000"/>
<circle cx="173.25" cy="338.56" r="2.2" fill="#006000"/>
<circle cx="181.37" cy="333.35" r="2.2" fill="#006000"/>
<circle cx="189.5" cy="329.82" r="2.2" fill="#006000"/>
<circle cx="197.62" cy="325.45" r="2.2" fill="#006000"/>
<circle cx="205.74" cy="319.73" r="2.2" fill="#006000"/>
<circle cx="213.87" cy="315.53" r="2.2" fill="#006000"/>
<circle cx="221.99" cy="312.34" r="2.2" fill="#006000"/>
<circle cx="230.11" cy="309.48" r="2.2" fill="#006000"/>
<circle cx="238.24" cy="307.29" r="2.2" fill="#006000"/>
<circle cx="246.36" cy="304.77" r="2.2" fill="#006000"/>
<circle cx="254.48" cy="302.59" r="2.2" fill="#006000"/>
<circle cx="262.61" cy="300.57" r="2.2" fill="#006000"/>
<circle cx="270.73" cy="298.55" r="2.2" fill="#006000"/>
<circle cx="278.85" cy="297.38" r="2.2" fill="#006000"/>
<circle cx="286.98" cy="297.71" r="2.2" fill="#006000"/>
<circle cx="295.1" cy="297.71" r="2.2" fill="#006000"/>
<path d="M51.4,405.8 C52.75,405.77 56.82,405.67 59.52,405.6 C62.23,405.52 64.94,405.43 67.65,405.34 C70.35,405.24 73.06,405.2 75.77,405.02 C78.48,404.84 81.19,404.57 83.89,404.23 C86.6,403.9 89.31,403.59 92.02,403 C94.72,402.41 97.43,401.72 100.14,400.7 C102.85,399.69 105.56,398.54 108.26,396.89 C110.97,395.25 113.68,393.21 116.39,390.84 C119.09,388.48 121.8,385.49 124.51,382.72 C127.22,379.94 129.93,377.02 132.63,374.2 C135.34,371.38 138.05,368.45 140.76,365.8 C143.46,363.14 146.17,360.82 148.88,358.29 C151.59,355.76 154.3,353.05 157,350.61 C159.71,348.17 162.42,345.87 165.13,343.66 C167.83,341.46 170.54,339.27 173.25,337.39 C175.96,335.5 178.67,333.86 181.37,332.34 C184.08,330.83 186.79,329.51 189.5,328.31 C192.2,327.1 194.91,326.11 197.62,325.12 C200.33,324.12 203.04,323.16 205.74,322.31 C208.45,321.46 211.16,320.74 213.87,320.02 C216.57,319.3 219.28,318.6 221.99,318 C224.7,317.4 227.41,316.93 230.11,316.43 C232.82,315.93 235.53,315.46 238.24,314.97 C240.94,314.49 243.65,314.01 246.36,313.52 C249.07,313.02 251.78,312.47 254.48,312 C257.19,311.54 259.9,311.06 262.61,310.71 C265.31,310.37 268.02,310.14 270.73,309.93 C273.44,309.72 276.15,309.6 278.85,309.48 C281.56,309.36 284.27,309.28 286.98,309.2 C289.68,309.13 293.75,309.06 295.1,309.03" fill="none" stroke="#40ff00" stroke-width="2.2"/>
<circle cx="51.4" cy="405.8" r="2.2" fill="#40ff00"/>
<circle cx="59.52" cy="405.3" r="2.2" fill="#40ff00"/>
<circle cx="67.65" cy="404.79" r="2.2" fill="#40ff00"/>
<circle cx="75.77" cy="404.12" r="2.2" fill="#40ff00"/>
<circle cx="83.89" cy="403.45" r="2.2" fill="#40ff00"/>
<circle cx="92.02" cy="402.44" r="2.2" fill="#40ff00"/>
<circle cx="100.14" cy="400.42" r="2.2" fill="#40ff00"/>
<circle cx="108.26" cy="396.55" r="2.2" fill="#40ff00"/>
<circle cx="116.39" cy="391.01" r="2.2" fill="#40ff00"/>
<circle cx="124.51" cy="382.27" r="2.2" fill="#40ff00"/>
<circle cx="132.63" cy="372.18" r="2.2" fill="#40ff00"/>
<circle cx="140.76" cy="365.46" r="2.2" fill="#40ff00"/>
<circle cx="148.88" cy="357.05" r="2.2" fill="#40ff00"/>
<circle cx="157" cy="349.65" r="2.2" fill="#40ff00"/>
<circle cx="165.13" cy="342.43" r="2.2" fill="#40ff00"/>
<circle cx="173.25" cy="336.21" r="2.2" fill="#40ff00"/>
<circle cx="181.37" cy="330.83" r="2.2" fill="#40ff00"/>
<circle cx="189.5" cy="327.3" r="2.2" fill="#40ff00"/>
<circle cx="197.62" cy="324.1" r="2.2" fill="#40ff00"/>
<circle cx="205.74" cy="321.25" r="2.2" fill="#40ff00"/>
<circle cx="213.87" cy="318.89" r="2.2" fill="#40ff00"/>
<circle cx="221.99" cy="317.21" r="2.2" fill="#40ff00"/>
<circle cx="230.11" cy="315.19" r="2.2" fill="#40ff00"/>
<circle cx="238.24" cy="314.19" r="2.2" fill="#40ff00"/>
<circle cx="246.36" cy="312.84" r="2.2" fill="#40ff00"/>
<circle cx="254.48" cy="310.82" r="2.2" fill="#40ff00"/>
<circle cx="262.61" cy="309.65" r="2.2" fill="#40ff00"/>
<circle cx="270.73" cy="308.97" r="2.2" fill="#40ff00"/>
<circle cx="278.85" cy="308.47" r="2.2" fill="#40ff00"/>
<circle cx="286.98" cy="308.3" r="2.2" fill="#40ff00"/>
<circle cx="295.1" cy="308.13" r="2.2" fill="#40ff00"/>
<path d="M51.4,405.8 C52.75,405.66 56.82,405.2 59.52,404.98 C62.23,404.76 64.94,404.61 67.65,404.49 C70.35,404.38 73.06,404.46 75.77,404.29 C78.48,404.12 81.19,403.82 83.89,403.45 C86.6,403.08 89.31,402.69 92.02,402.05 C94.72,401.4 97.43,400.57 100.14,399.58 C102.85,398.59 105.56,397.45 108.26,396.11 C110.97,394.76 113.68,393.26 116.39,391.51 C119.09,389.77 121.8,387.76 124.51,385.63 C127.22,383.5 129.93,381.17 132.63,378.74 C135.34,376.31 138.05,373.55 140.76,371.06 C143.46,368.58 146.17,366.19 148.88,363.83 C151.59,361.48 154.3,359.11 157,356.94 C159.71,354.78 162.42,352.8 165.13,350.83 C167.83,348.87 170.54,346.97 173.25,345.18 C175.96,343.38 178.67,341.67 181.37,340.08 C184.08,338.48 186.79,337 189.5,335.59 C192.2,334.18 194.91,332.86 197.62,331.62 C200.33,330.37 203.04,329.23 205.74,328.14 C208.45,327.05 211.16,325.99 213.87,325.06 C216.57,324.13 219.28,323.31 221.99,322.54 C224.7,321.76 227.41,321.11 230.11,320.41 C232.82,319.71 235.53,319 238.24,318.34 C240.94,317.67 243.65,317.07 246.36,316.43 C249.07,315.8 251.78,315.11 254.48,314.53 C257.19,313.94 259.9,313.4 262.61,312.9 C265.31,312.4 268.02,311.84 270.73,311.5 C273.44,311.15 276.15,310.97 278.85,310.83 C281.56,310.69 284.27,310.68 286.98,310.66 C289.68,310.64 293.75,310.71 295.1,310.71" fill="none" stroke="#c80018" stroke-width="2.2"/>
<circle cx="51.4" cy="405.8" r="2.2" fill="#c80018"/>
<circle cx="59.52" cy="404.29" r="2.2" fill="#c80018"/>
<circle cx="67.65" cy="403.95" r="2.2" fill="#c80018"/>
<circle cx="75.77" cy="403.45" r="2.2" fill="#c80018"/>
<circle cx="83.89" cy="402.77" r="2.2" fill="#c80018"/>
<circle cx="92.02" cy="401.43" r="2.2" fill="#c80018"/>
<circle cx="100.14" cy="399.24" r="2.2" fill="#c80018"/>
<circle cx="108.26" cy="395.38" r="2.2" fill="#c80018"/>
<circle cx="116.39" cy="391.01" r="2.2" fill="#c80018"/>
<circle cx="124.51" cy="385.46" r="2.2" fill="#c80018"/>
<circle cx="132.63" cy="377.73" r="2.2" fill="#c80018"/>
<circle cx="140.76" cy="370.33" r="2.2" fill="#c80018"/>
<circle cx="148.88" cy="362.43" r="2.2" fill="#c80018"/>
<circle cx="157" cy="356.04" r="2.2" fill="#c80018"/>
<circle cx="165.13" cy="349.65" r="2.2" fill="#c80018"/>
<circle cx="173.25" cy="344.11" r="2.2" fill="#c80018"/>
<circle cx="181.37" cy="339.06" r="2.2" fill="#c80018"/>
<circle cx="189.5" cy="334.36" r="2.2" fill="#c80018"/>
<circle cx="197.62" cy="330.66" r="2.2" fill="#c80018"/>
<circle cx="205.74" cy="327.13" r="2.2" fill="#c80018"/>
<circle cx="213.87" cy="323.94" r="2.2" fill="#c80018"/>
<circle cx="221.99" cy="321.41" r="2.2" fill="#c80018"/>
<circle cx="230.11" cy="319.56" r="2.2" fill="#c80018"/>
<circle cx="238.24" cy="317.55" r="2.2" fill="#c80018"/>
<circle cx="246.36" cy="315.19" r="2.2" fill="#c80018"/>
<circle cx="254.48" cy="313.85" r="2.2" fill="#c80018"/>
<circle cx="262.61" cy="311.83" r="2.2" fill="#c80018"/>
<circle cx="270.73" cy="310.32" r="2.2" fill="#c80018"/>
<circle cx="278.85" cy="309.65" r="2.2" fill="#c80018"/>
<circle cx="286.98" cy="309.81" r="2.2" fill="#c80018"/>
<circle cx="295.1" cy="309.81" r="2.2" fill="#c80018"/>
<text x="20.9" y="341.4" font-size="12.7" font-weight="normal" text-anchor="middle" textLength="89.1" lengthAdjust="spacingAndGlyphs" stroke="#000" stroke-width="0.3" transform="rotate(-90 20.9 341.4)">Absorbance at 405 nm</text>
<text x="173.1" y="439.2" font-size="12.7" font-weight="normal" text-anchor="middle" textLength="62.8" lengthAdjust="spacingAndGlyphs" stroke="#000" stroke-width="0.3">Time in minutes</text>
<text x="94" y="285.5" font-size="10" font-weight="bold" textLength="47.82" lengthAdjust="spacingAndGlyphs">3’−26 RNA</text>
<line x1="128.2" y1="288.9" x2="133.01" y2="294.32" stroke="#000" stroke-width="1.4"/>
<polygon points="137,298.8 130.96,295.47 134.4,292.41" fill="#000"/>
<text x="119.3" y="327.8" font-size="10" font-weight="bold" textLength="65.11" lengthAdjust="spacingAndGlyphs">3’−26 SM RNA</text>
<line x1="157.8" y1="330.9" x2="162.26" y2="336.51" stroke="#000" stroke-width="1.4"/>
<polygon points="166,341.2 160.15,337.55 163.75,334.68" fill="#000"/>
<text x="234" y="290.6" font-size="10" font-weight="bold" textLength="63.77" lengthAdjust="spacingAndGlyphs">3’−26 LM RNA</text>
<line x1="249.8" y1="292.1" x2="249.8" y2="298.8" stroke="#000" stroke-width="1.4"/>
<polygon points="249.8,304.8 247.5,298.3 252.1,298.3" fill="#000"/>
<text x="195" y="351.2" font-size="10" font-weight="bold" textLength="62.8" lengthAdjust="spacingAndGlyphs">3’−26 SF RNA</text>
<line x1="212.3" y1="340.9" x2="212.3" y2="334.9" stroke="#000" stroke-width="1.4"/>
<polygon points="212.3,328.9 214.6,335.4 210,335.4" fill="#000"/>
<text x="215.9" y="380.8" font-size="10" font-weight="bold" textLength="46.4" lengthAdjust="spacingAndGlyphs">ZF plasma</text>
<line x1="234.7" y1="384.2" x2="234.7" y2="390.1" stroke="#000" stroke-width="1.4"/>
<polygon points="234.7,396.1 232.4,389.6 237,389.6" fill="#000"/>
<polyline points="365.8,32.5 365.8,168.8 503.2,168.8" fill="none" stroke="#000" stroke-width="1.75" stroke-linejoin="miter"/>
<line x1="361.6" y1="168.8" x2="365.8" y2="168.8" stroke="#000" stroke-width="1.7"/>
<text x="357" y="173.1" font-size="10" font-weight="bold" text-anchor="end" >0</text>
<line x1="361.6" y1="134.73" x2="365.8" y2="134.73" stroke="#000" stroke-width="1.7"/>
<text x="357" y="139.03" font-size="10" font-weight="bold" text-anchor="end" >5</text>
<line x1="361.6" y1="100.65" x2="365.8" y2="100.65" stroke="#000" stroke-width="1.7"/>
<text x="357" y="104.95" font-size="10" font-weight="bold" text-anchor="end" >10</text>
<line x1="361.6" y1="66.58" x2="365.8" y2="66.58" stroke="#000" stroke-width="1.7"/>
<text x="357" y="70.88" font-size="10" font-weight="bold" text-anchor="end" >15</text>
<line x1="361.6" y1="32.5" x2="365.8" y2="32.5" stroke="#000" stroke-width="1.7"/>
<text x="357" y="36.8" font-size="10" font-weight="bold" text-anchor="end" >20</text>
<line x1="387.3" y1="120.35" x2="387.3" y2="115.78" stroke="#0033a3" stroke-width="1.6"/>
<line x1="382" y1="115.78" x2="392.6" y2="115.78" stroke="#0033a3" stroke-width="1.8"/>
<rect x="376.65" y="120.35" width="21.3" height="48.45" fill="#0033a3"/>
<line x1="387.3" y1="168.8" x2="387.3" y2="173.1" stroke="#000" stroke-width="1.7"/>
<text x="394.1" y="181.4" font-size="10.3" font-weight="bold" text-anchor="end" transform="rotate(-45 394.1 181.4)">5.8S rRNA-S</text>
<line x1="418.7" y1="124.23" x2="418.7" y2="116.53" stroke="#ff7a00" stroke-width="1.6"/>
<line x1="413.4" y1="116.53" x2="424" y2="116.53" stroke="#ff7a00" stroke-width="1.8"/>
<rect x="408.05" y="124.23" width="21.3" height="44.57" fill="#ff7a00"/>
<line x1="418.7" y1="168.8" x2="418.7" y2="173.1" stroke="#000" stroke-width="1.7"/>
<text x="425.5" y="181.4" font-size="10.3" font-weight="bold" text-anchor="end" transform="rotate(-45 425.5 181.4)">3’−43 RNA</text>
<line x1="450.2" y1="121.91" x2="450.2" y2="115.51" stroke="#40ff00" stroke-width="1.6"/>
<line x1="444.9" y1="115.51" x2="455.5" y2="115.51" stroke="#40ff00" stroke-width="1.8"/>
<rect x="439.55" y="121.91" width="21.3" height="46.89" fill="#40ff00"/>
<line x1="450.2" y1="168.8" x2="450.2" y2="173.1" stroke="#000" stroke-width="1.7"/>
<text x="457" y="181.4" font-size="10.3" font-weight="bold" text-anchor="end" transform="rotate(-45 457 181.4)">3’−26 RNA</text>
<line x1="481.5" y1="57.03" x2="481.5" y2="52.95" stroke="#c80018" stroke-width="1.6"/>
<line x1="476.2" y1="52.95" x2="486.8" y2="52.95" stroke="#c80018" stroke-width="1.8"/>
<rect x="470.85" y="57.03" width="21.3" height="111.77" fill="#c80018"/>
<line x1="481.5" y1="168.8" x2="481.5" y2="173.1" stroke="#000" stroke-width="1.7"/>
<text x="488.3" y="181.4" font-size="10.3" font-weight="bold" text-anchor="end" transform="rotate(-45 488.3 181.4)">3’−19 RNA</text>
<polyline points="387.2,112.6 387.2,107 450.2,107 450.2,112.6" fill="none" stroke="#000" stroke-width="1.8" stroke-linejoin="miter"/>
<text x="411.5" y="102.8" font-size="10.5" font-weight="bold" textLength="13.91" lengthAdjust="spacingAndGlyphs">NS</text>
<polyline points="418.9,89.4 418.9,30.6 481.2,30.6 481.2,49" fill="none" stroke="#000" stroke-width="1.8" stroke-linejoin="miter"/>
<polygon points="444.8,23.6 445.56,25.15 447.27,25.4 446.04,26.6 446.33,28.3 444.8,27.5 443.27,28.3 443.56,26.6 442.33,25.4 444.04,25.15" fill="#000"/>
<polygon points="450.1,23.6 450.86,25.15 452.57,25.4 451.34,26.6 451.63,28.3 450.1,27.5 448.57,28.3 448.86,26.6 447.63,25.4 449.34,25.15" fill="#000"/>
<polygon points="455.3,23.6 456.06,25.15 457.77,25.4 456.54,26.6 456.83,28.3 455.3,27.5 453.77,28.3 454.06,26.6 452.83,25.4 454.54,25.15" fill="#000"/>
<polygon points="460.7,23.6 461.46,25.15 463.17,25.4 461.94,26.6 462.23,28.3 460.7,27.5 459.17,28.3 459.46,26.6 458.23,25.4 459.94,25.15" fill="#000"/>
<text x="321.1" y="103.7" font-size="13.5" font-weight="normal" text-anchor="middle" textLength="106.3" lengthAdjust="spacingAndGlyphs" stroke="#000" stroke-width="0.3" transform="rotate(-90 321.1 103.7)">Time to half maximal fibrin</text>
<text x="336.7" y="103.7" font-size="13.5" font-weight="normal" text-anchor="middle" textLength="78.8" lengthAdjust="spacingAndGlyphs" stroke="#000" stroke-width="0.3" transform="rotate(-90 336.7 103.7)">formation (minutes)</text>
<polyline points="370.5,263.5 370.5,395.2 510.8,395.2" fill="none" stroke="#000" stroke-width="1.75" stroke-linejoin="miter"/>
<line x1="366.3" y1="395.2" x2="370.5" y2="395.2" stroke="#000" stroke-width="1.7"/>
<text x="361.7" y="399.5" font-size="10" font-weight="bold" text-anchor="end" >0</text>
<line x1="366.3" y1="351.3" x2="370.5" y2="351.3" stroke="#000" stroke-width="1.7"/>
<text x="361.7" y="355.6" font-size="10" font-weight="bold" text-anchor="end" >5</text>
<line x1="366.3" y1="307.4" x2="370.5" y2="307.4" stroke="#000" stroke-width="1.7"/>
<text x="361.7" y="311.7" font-size="10" font-weight="bold" text-anchor="end" >10</text>
<line x1="366.3" y1="263.5" x2="370.5" y2="263.5" stroke="#000" stroke-width="1.7"/>
<text x="361.7" y="267.8" font-size="10" font-weight="bold" text-anchor="end" >15</text>
<line x1="391.9" y1="332.51" x2="391.9" y2="327.68" stroke="#0033a3" stroke-width="1.6"/>
<line x1="386.6" y1="327.68" x2="397.2" y2="327.68" stroke="#0033a3" stroke-width="1.8"/>
<rect x="381.25" y="332.51" width="21.3" height="62.69" fill="#0033a3"/>
<line x1="391.9" y1="395.2" x2="391.9" y2="399.5" stroke="#000" stroke-width="1.7"/>
<text x="398.7" y="408.5" font-size="10.3" font-weight="bold" text-anchor="end" transform="rotate(-45 398.7 408.5)">3’−26 RNA</text>
<line x1="424" y1="295.37" x2="424" y2="289.58" stroke="#006000" stroke-width="1.6"/>
<line x1="418.7" y1="289.58" x2="429.3" y2="289.58" stroke="#006000" stroke-width="1.8"/>
<rect x="413.35" y="295.37" width="21.3" height="99.83" fill="#006000"/>
<line x1="424" y1="395.2" x2="424" y2="399.5" stroke="#000" stroke-width="1.7"/>
<text x="430.8" y="408.5" font-size="10.3" font-weight="bold" text-anchor="end" transform="rotate(-45 430.8 408.5)">3’−26 LM RNA</text>
<line x1="456.2" y1="295.37" x2="456.2" y2="285.71" stroke="#40ff00" stroke-width="1.6"/>
<line x1="450.9" y1="285.71" x2="461.5" y2="285.71" stroke="#40ff00" stroke-width="1.8"/>
<rect x="445.55" y="295.37" width="21.3" height="99.83" fill="#40ff00"/>
<line x1="456.2" y1="395.2" x2="456.2" y2="399.5" stroke="#000" stroke-width="1.7"/>
<text x="463" y="408.5" font-size="10.3" font-weight="bold" text-anchor="end" transform="rotate(-45 463 408.5)">3’−26 SM RNA</text>
<line x1="488.3" y1="295.37" x2="488.3" y2="289.23" stroke="#c80018" stroke-width="1.6"/>
<line x1="483" y1="289.23" x2="493.6" y2="289.23" stroke="#c80018" stroke-width="1.8"/>
<rect x="477.65" y="295.37" width="21.3" height="99.83" fill="#c80018"/>
<line x1="488.3" y1="395.2" x2="488.3" y2="399.5" stroke="#000" stroke-width="1.7"/>
<text x="495.1" y="408.5" font-size="10.3" font-weight="bold" text-anchor="end" transform="rotate(-45 495.1 408.5)">3’−26 SF RNA</text>
<polyline points="423.1,283.6 423.1,276.2 488.4,276.2 488.4,283.6" fill="none" stroke="#000" stroke-width="1.8" stroke-linejoin="miter"/>
<text x="447.79" y="273.1" font-size="10.5" font-weight="bold" textLength="14.01" lengthAdjust="spacingAndGlyphs">NS</text>
<polyline points="391.5,323.7 391.5,250.6 455.8,250.6 455.8,262.1" fill="none" stroke="#000" stroke-width="1.8" stroke-linejoin="miter"/>
<polygon points="417.3,243.2 418.06,244.75 419.77,245 418.54,246.2 418.83,247.9 417.3,247.1 415.77,247.9 416.06,246.2 414.83,245 416.54,244.75" fill="#000"/>
<polygon points="422.6,243.2 423.36,244.75 425.07,245 423.84,246.2 424.13,247.9 422.6,247.1 421.07,247.9 421.36,246.2 420.13,245 421.84,244.75" fill="#000"/>
<polygon points="427.9,243.2 428.66,244.75 430.37,245 429.14,246.2 429.43,247.9 427.9,247.1 426.37,247.9 426.66,246.2 425.43,245 427.14,244.75" fill="#000"/>
<polygon points="433.2,243.2 433.96,244.75 435.67,245 434.44,246.2 434.73,247.9 433.2,247.1 431.67,247.9 431.96,246.2 430.73,245 432.44,244.75" fill="#000"/>
<text x="326.1" y="329.8" font-size="13.5" font-weight="normal" text-anchor="middle" textLength="105.4" lengthAdjust="spacingAndGlyphs" stroke="#000" stroke-width="0.3" transform="rotate(-90 326.1 329.8)">Time to half maximal fibrin</text>
<text x="341.5" y="329.9" font-size="13.5" font-weight="normal" text-anchor="middle" textLength="77.4" lengthAdjust="spacingAndGlyphs" stroke="#000" stroke-width="0.3" transform="rotate(-90 341.5 329.9)">formation (minutes)</text>
<text x="8.9" y="20.8" font-size="15.5" font-weight="bold" text-anchor="start" >A</text>
<text x="10" y="261" font-size="15.5" font-weight="bold" text-anchor="start" >B</text>
<rect x="1" y="1" width="518" height="464" fill="none" stroke="#000" stroke-width="2"/>
</svg>
</body></html>
